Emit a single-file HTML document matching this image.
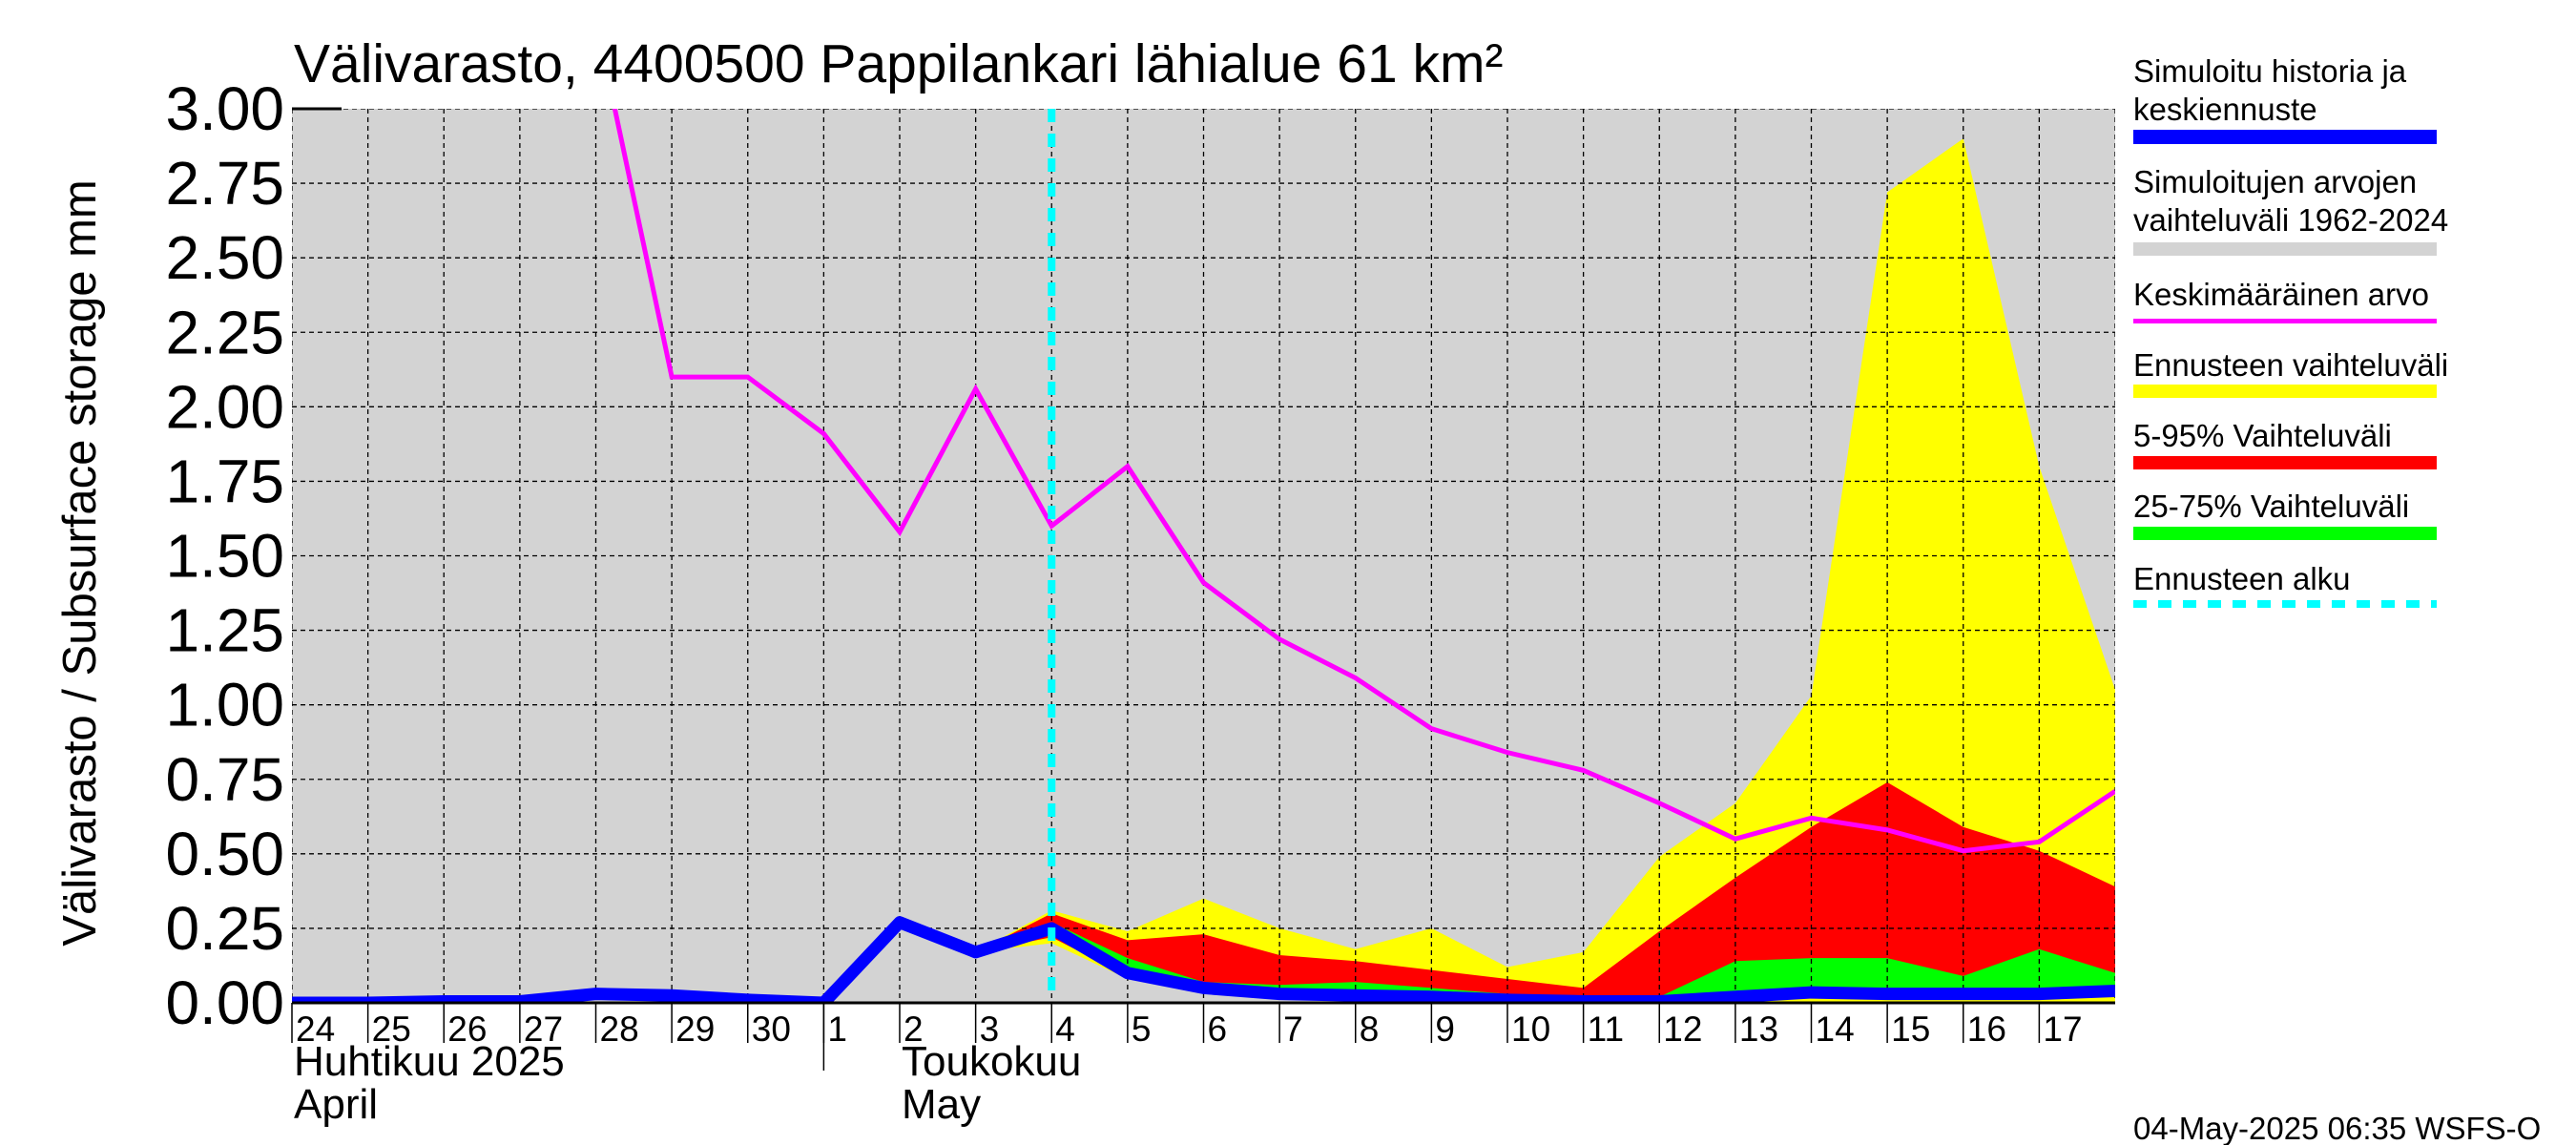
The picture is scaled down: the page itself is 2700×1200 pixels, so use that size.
<!DOCTYPE html>
<html><head><meta charset="utf-8"><style>
html,body{margin:0;padding:0;background:#fff;}
svg{display:block;font-family:"Liberation Sans",sans-serif;}
</style></head><body>
<svg id="chart" width="2700" height="1200" viewBox="0 0 2700 1200" xmlns="http://www.w3.org/2000/svg" xml:space="preserve">
<rect x="0" y="0" width="2700" height="1200" fill="#fff"/>
<text x="308" y="86" font-size="57">Välivarasto, 4400500 Pappilankari lähialue 61 km²</text>
<text transform="translate(100,590) rotate(-90)" text-anchor="middle" font-size="49">Välivarasto / Subsurface storage  mm</text>
<g id="plot"></g>
<g id="legend">
<text x="2236" y="86" font-size="33">Simuloitu historia ja</text>
<text x="2236" y="126" font-size="33">keskiennuste</text>
<rect x="2236" y="136" width="318" height="15" fill="#0000ff"/>
<text x="2236" y="202" font-size="33">Simuloitujen arvojen</text>
<text x="2236" y="242" font-size="33">vaihteluväli 1962-2024</text>
<rect x="2236" y="254" width="318" height="14" fill="#d3d3d3"/>
<text x="2236" y="320" font-size="33">Keskimääräinen arvo</text>
<rect x="2236" y="334" width="318" height="5" fill="#ff00ff"/>
<text x="2236" y="394" font-size="33">Ennusteen vaihteluväli</text>
<rect x="2236" y="403" width="318" height="14" fill="#ffff00"/>
<text x="2236" y="468" font-size="33">5-95% Vaihteluväli</text>
<rect x="2236" y="478" width="318" height="14" fill="#ff0000"/>
<text x="2236" y="542" font-size="33">25-75% Vaihteluväli</text>
<rect x="2236" y="552" width="318" height="14" fill="#00ff00"/>
<text x="2236" y="618" font-size="33">Ennusteen alku</text>
<line x1="2236" y1="633" x2="2554" y2="633" stroke="#00ffff" stroke-width="8" stroke-dasharray="14,12"/>
</g>
<text x="2236" y="1194" font-size="33">04-May-2025 06:35 WSFS-O</text>
</svg>
<script>
const days=["24","25","26","27","28","29","30","1","2","3","4","5","6","7","8","9","10","11","12","13","14","15","16","17"];
const yTicks=[0,0.25,0.5,0.75,1.0,1.25,1.5,1.75,2.0,2.25,2.5,2.75,3.0];
const meanVals=[5.5,4.6,4.0,3.6,3.3,2.10,2.10,1.91,1.58,2.06,1.60,1.80,1.41,1.22,1.09,0.92,0.84,0.78,0.67,0.55,0.62,0.58,0.51,0.54,0.71];
const histVals=[0.0,0.0,0.005,0.005,0.03,0.025,0.01,0.0,0.27,0.17,0.25,0.10,0.05,0.03,0.025,0.02,0.01,0.005,0.005,0.02,0.035,0.03,0.03,0.03,0.04];
const fcStart=9;
const yelHigh=[0.17,0.31,0.24,0.35,0.25,0.18,0.25,0.12,0.17,0.49,0.67,1.03,2.72,2.90,1.80,1.05];
const yelLow=[0.17,0.20,0.08,0.03,0.02,0.01,0.0,0.0,0.0,0.0,0.0,0.0,0.0,0.0,0.0,0.0];
const redHigh=[0.17,0.30,0.21,0.23,0.16,0.14,0.11,0.08,0.05,0.24,0.42,0.59,0.74,0.59,0.51,0.39];
const redLow=[0.17,0.22,0.09,0.04,0.02,0.015,0.01,0.0,0.0,0.0,0.01,0.02,0.02,0.02,0.02,0.03];
const grnHigh=[0.17,0.27,0.15,0.07,0.06,0.07,0.05,0.03,0.01,0.02,0.14,0.15,0.15,0.09,0.18,0.10];
const grnLow=[0.17,0.24,0.10,0.05,0.03,0.025,0.02,0.01,0.005,0.005,0.02,0.035,0.03,0.03,0.03,0.04];
const forecastDay=10;

const L=306,R=2217,T=114,B=1051,dayW=(R-L)/24;
const X=i=>L+i*dayW;
const Y=v=>B-(v/3)*(B-T);
const NS="http://www.w3.org/2000/svg";
const plot=document.getElementById('plot');
function mk(tag,attrs,parent){const e=document.createElementNS(NS,tag);for(const k in attrs)e.setAttribute(k,attrs[k]);(parent||plot).appendChild(e);return e;}
const clip=mk('clipPath',{id:'pc'});mk('rect',{x:L,y:T,width:R-L,height:B-T},clip);
let e=mk('rect',{x:L,y:T,width:R-L,height:B-T,fill:'#d3d3d3'});


const g=mk('g',{'clip-path':'url(#pc)'});
function band(hi,lo,color,name){
  let pts=[];
  hi.forEach((v,i)=>pts.push(X(fcStart+i)+','+Y(v)));
  for(let i=lo.length-1;i>=0;i--)pts.push(X(fcStart+i)+','+Y(lo[i]));
  const p=mk('polygon',{points:pts.join(' '),fill:color},g);
  
  
}
band(yelHigh,yelLow,'#ffff00','forecast-range-band');
band(redHigh,redLow,'#ff0000','band-5-95');
band(grnHigh,grnLow,'#00ff00','band-25-75');
for(let i=1;i<24;i++){const l=mk('line',{x1:X(i),y1:T,x2:X(i),y2:B,stroke:'#000','stroke-width':1.3,'stroke-dasharray':'5,4'},g);

}
yTicks.forEach(v=>{if(v>0&&v<3){const l=mk('line',{x1:L,y1:Y(v),x2:R,y2:Y(v),stroke:'#000','stroke-width':1.3,'stroke-dasharray':'5,4'},g);

}});
mk('line',{x1:L,y1:T,x2:R,y2:T,stroke:'#000','stroke-width':1.3,'stroke-dasharray':'5,4'},g);
mk('line',{x1:R,y1:T,x2:R,y2:B,stroke:'#000','stroke-width':1.3,'stroke-dasharray':'5,4'},g);
mk('line',{x1:L,y1:T,x2:L,y2:B,stroke:'#000','stroke-width':1.3,'stroke-dasharray':'5,4'},g);
let m=mk('polyline',{points:meanVals.map((v,i)=>X(i)+','+Y(v)).join(' '),fill:'none',stroke:'#ff00ff','stroke-width':5},g);


let h=mk('polyline',{points:histVals.map((v,i)=>X(i)+','+Y(v)).join(' '),fill:'none',stroke:'#0000ff','stroke-width':13,'stroke-linejoin':'round'},g);


let f=mk('line',{x1:X(forecastDay),y1:T,x2:X(forecastDay),y2:B,stroke:'#00ffff','stroke-width':8,'stroke-dasharray':'14,12'},g);


mk('line',{x1:L,y1:B,x2:R,y2:B,stroke:'#000','stroke-width':3});
mk('line',{x1:L,y1:T,x2:L+52,y2:T,stroke:'#000','stroke-width':3});
yTicks.forEach(v=>{const t=mk('text',{x:L-8,y:Y(v)+22,'text-anchor':'end','font-size':64});t.textContent=v.toFixed(2);

});
days.forEach((d,i)=>{
  mk('line',{x1:X(i),y1:B,x2:X(i),y2:B+42,stroke:'#000','stroke-width':1.5});
  const t=mk('text',{x:X(i)+4,y:B+40,'font-size':37});t.textContent=d;
  
  
});
mk('line',{x1:X(7),y1:B,x2:X(7),y2:1122,stroke:'#000','stroke-width':1.5});
[["Huhtikuu  2025",X(0)+2,1127],["April",X(0)+2,1172],["Toukokuu",X(8)+2,1127],["May",X(8)+2,1172]].forEach(a=>{
  const t=mk('text',{x:a[1],y:a[2],'font-size':44});t.textContent=a[0];
  
  
});
</script>
</body></html>
